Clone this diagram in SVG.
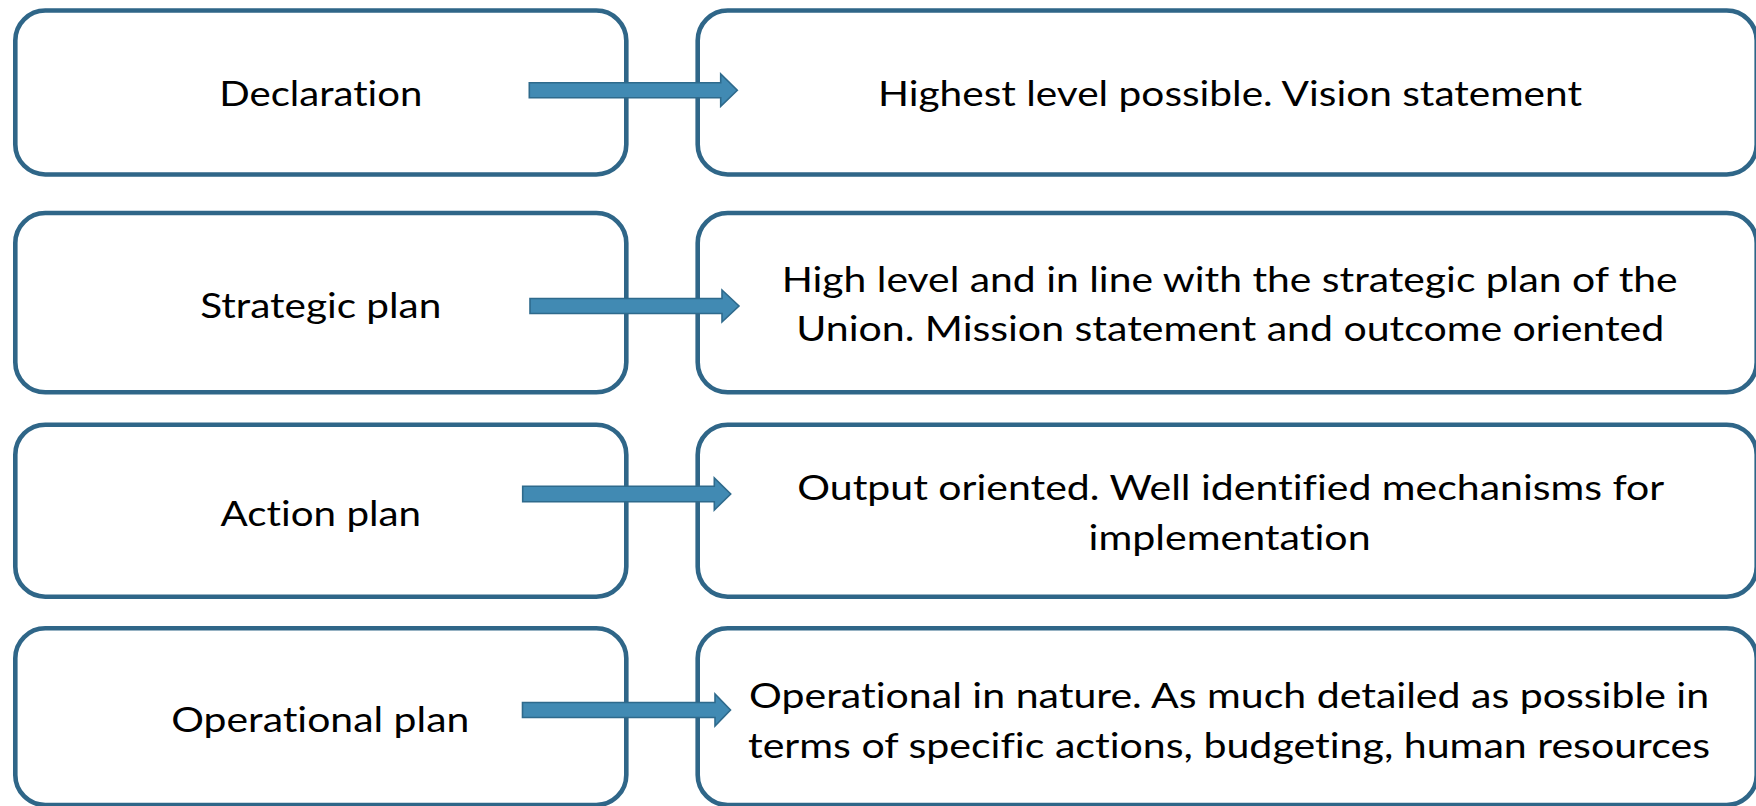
<svg xmlns="http://www.w3.org/2000/svg" width="1756" height="806" viewBox="0 0 1756 806">
<style>
.box{fill:#ffffff;stroke:#2f6688;stroke-width:4.6}
.arrow{fill:#418ab3;stroke:#2e6a8c;stroke-width:1.6;stroke-linejoin:miter}
text{font-family:Lato,"Open Sans","Liberation Sans",sans-serif;font-size:35.5px;fill:#000000;text-anchor:middle;font-variant-ligatures:none}
</style>
<rect width="1756" height="806" fill="#ffffff"/>
<g id="declaration"><rect class="box" x="15.3" y="10.5" width="611" height="164" rx="30"/><text x="320.8" y="106" textLength="203" lengthAdjust="spacingAndGlyphs">Declaration</text></g>
<g id="declaration-desc"><rect class="box" x="697.7" y="10.5" width="1059" height="164" rx="30"/><text x="1230" y="106" textLength="704" lengthAdjust="spacingAndGlyphs">Highest level possible. Vision statement</text></g>
<g id="strategic"><rect class="box" x="15.3" y="213" width="611" height="179.3" rx="30"/><text x="320.8" y="318" textLength="241" lengthAdjust="spacingAndGlyphs">Strategic plan</text></g>
<g id="strategic-desc"><rect class="box" x="697.7" y="213" width="1059" height="179.3" rx="30"/><text x="1229.7" y="291.5" textLength="896" lengthAdjust="spacingAndGlyphs">High level and in line with the strategic plan of the</text><text x="1230.2" y="340.5" textLength="868" lengthAdjust="spacingAndGlyphs">Union. Mission statement and outcome oriented</text></g>
<g id="action"><rect class="box" x="15.3" y="424.7" width="611" height="172" rx="30"/><text x="320.8" y="525.5" textLength="200.5" lengthAdjust="spacingAndGlyphs">Action plan</text></g>
<g id="action-desc"><rect class="box" x="697.7" y="424.7" width="1059" height="172" rx="30"/><text x="1230.8" y="499.5" textLength="867" lengthAdjust="spacingAndGlyphs">Output oriented. Well identified mechanisms for</text><text x="1229.6" y="550" textLength="282" lengthAdjust="spacingAndGlyphs">implementation</text></g>
<g id="operational"><rect class="box" x="15.3" y="628.3" width="611" height="176.7" rx="30"/><text x="320.3" y="732" textLength="298" lengthAdjust="spacingAndGlyphs">Operational plan</text></g>
<g id="operational-desc"><rect class="box" x="697.7" y="628.3" width="1059" height="176.7" rx="30"/><text x="1229.1" y="708" textLength="960" lengthAdjust="spacingAndGlyphs">Operational in nature. As much detailed as possible in</text><text x="1229" y="758" textLength="962" lengthAdjust="spacingAndGlyphs">terms of specific actions, budgeting, human resources</text></g>
<g id="connectors">
<polygon class="arrow" points="529.3,82.7 720.7,82.7 720.7,74 737.3,90.2 720.7,106.4 720.7,97.7 529.3,97.7"/>
<polygon class="arrow" points="530,298.5 722,298.5 722,290 739,306 722,322 722,313.5 530,313.5"/>
<polygon class="arrow" points="522.7,486.3 714.3,486.3 714.3,478 730.7,494 714.3,510 714.3,501.7 522.7,501.7"/>
<polygon class="arrow" points="522.5,702.5 715,702.5 715,694 730.5,710 715,726 715,717.5 522.5,717.5"/>
</g>
</svg>
